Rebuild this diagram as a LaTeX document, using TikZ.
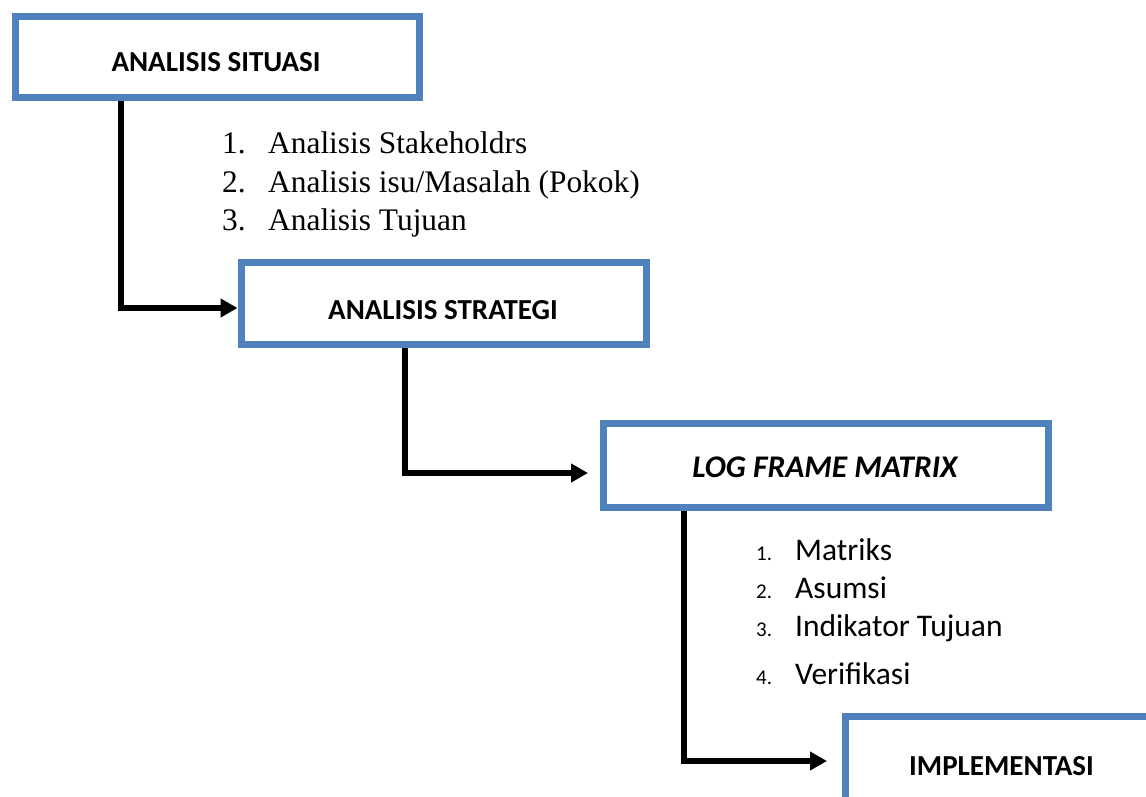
\documentclass[tikz,border=0pt]{standalone}
\usepackage{fontspec}
\usetikzlibrary{arrows.meta}
\newfontfamily\calfont{Carlito}
\newfontfamily\tnrfont{Liberation Serif}
\definecolor{boxblue}{HTML}{4F81BD}
\tikzset{
  stagebox/.style={draw=boxblue, line width=7pt, fill=white, rectangle, inner sep=0pt},
  stagetext/.style={anchor=base, inner sep=0pt, font=\calfont\bfseries\fontsize{29}{32}\selectfont},
  flow/.style={line width=5.5pt, -{Triangle[length=17pt,width=18pt]}},
  seritem/.style={anchor=base west, inner sep=0pt, font=\tnrfont\fontsize{31.4}{35}\selectfont},
  calnum/.style={anchor=base west, inner sep=0pt, font=\calfont\fontsize{21}{24}\selectfont},
  calitem/.style={anchor=base west, inner sep=0pt, font=\calfont\fontsize{31.5}{35}\selectfont}
}
\begin{document}
\begin{tikzpicture}[x=1pt,y=-1pt]
\useasboundingbox (0,0) rectangle (1146,796);
\clip (0,0) rectangle (1146,796);
% boxes
\node[stagebox, minimum width=404pt, minimum height=81pt] (b1) at (217,56.5) {};
\node[stagebox, minimum width=405pt, minimum height=82pt] (b2) at (443.5,303) {};
\node[stagebox, minimum width=445pt, minimum height=84pt] (b3) at (825.5,465) {};
\node[stagebox, minimum width=400pt, minimum height=86pt] (b4) at (1045,759) {};
% box texts
\node[stagetext] (t1) at (216,71.5) {ANALISIS SITUASI};
\node[stagetext] (t2) at (443,319.5) {ANALISIS STRATEGI};
\node[stagetext, font=\calfont\bfseries\itshape\fontsize{31.5}{34}\selectfont] (t3) at (825,477.5) {LOG FRAME MATRIX};
\node[stagetext] (t4) at (1001.5,775) {IMPLEMENTASI};
% connectors
\coordinate (k1) at (121,308);
\coordinate (k2) at (405,473);
\coordinate (e2) at (588,473);
\coordinate (k3) at (684,761);
\coordinate (e3) at (827,761);
\draw[flow] (k1 |- b1.south) -- (k1) -- (k1 -| b2.west);
\draw[flow] (k2 |- b2.south) -- (k2) -- (e2);
\draw[flow] (k3 |- b3.south) -- (k3) -- (e3);
% list 1
\node[seritem] (n11) at (222,153) {1.};
\node[seritem] (l11) at (268,153) {Analisis Stakeholdrs};
\node[seritem] (n12) at (222,192) {2.};
\node[seritem] (l12) at (268,192) {Analisis isu/Masalah (Pokok)};
\node[seritem] (n13) at (222,230) {3.};
\node[seritem] (l13) at (268,230) {Analisis Tujuan};
% list 2
\node[calnum] (n21) at (756,560) {1.};
\node[calitem] (l21) at (795,560) {Matriks};
\node[calnum] (n22) at (756,598) {2.};
\node[calitem] (l22) at (795,598) {Asumsi};
\node[calnum] (n23) at (756,636) {3.};
\node[calitem] (l23) at (795,636) {Indikator Tujuan};
\node[calnum] (n24) at (756,684) {4.};
\node[calitem] (l24) at (795,684) {Verifikasi};
\end{tikzpicture}
\end{document}
